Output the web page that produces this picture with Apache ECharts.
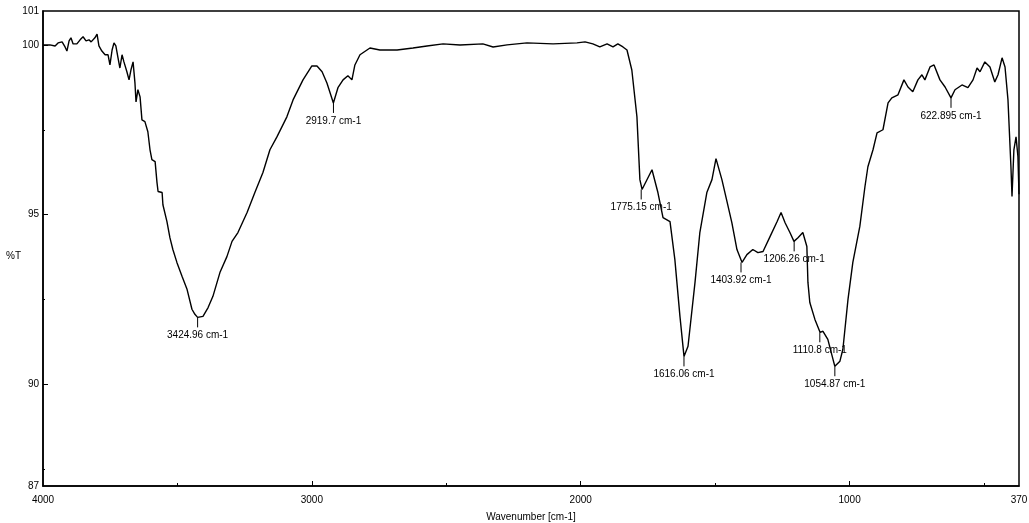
<!DOCTYPE html>
<html>
<head>
<meta charset="utf-8">
<script src="https://cdn.jsdelivr.net/npm/echarts@6/dist/echarts.min.js"></script>
<style>
html,body{margin:0;padding:0;background:#fff;}
#chart{width:1029px;height:523px;}
</style>
</head>
<body>
<div id="chart"></div>
<script>
// Spectrum
const wavenumber = [4000,3974,3955,3944,3929,3918,3911,3903,3896,3888,3874,3862,3851,3840,3829,3821,3814,3807,3799,3792,3781,3769,3758,3751,3743,3736,3729,3721,3714,3706,3699,3688,3680,3673,3665,3658,3654,3647,3639,3632,3621,3610,3602,3595,3583,3576,3572,3557,3554,3539,3528,3517,3502,3483,3464,3446,3435,3425,3405,3386,3368,3342,3316,3297,3275,3241,3212,3182,3156,3130,3093,3070,3033,3000,2981,2962,2944,2920,2903,2884,2866,2851,2840,2821,2784,2747,2683,2624,2572,2512,2449,2364,2326,2274,2200,2103,2014,1984,1955,1929,1902,1880,1862,1843,1828,1810,1791,1780,1772,1735,1713,1694,1668,1650,1631,1616,1601,1575,1557,1531,1512,1497,1475,1456,1438,1419,1400,1382,1360,1341,1322,1296,1270,1255,1240,1222,1207,1192,1174,1159,1155,1148,1129,1110,1099,1081,1062,1055,1036,1025,1006,988,962,943,932,913,898,876,857,843,820,798,783,765,746,731,720,701,686,664,645,623,608,582,560,541,526,515,497,478,460,448,433,422,411,400,396,389,381,374,370];
const transmittance = [100.0,100.0,99.97,100.06,100.09,99.94,99.82,100.12,100.21,100.03,100.03,100.15,100.24,100.12,100.15,100.09,100.06,100.21,100.32,99.97,99.82,99.71,99.71,99.41,99.85,100.06,99.97,99.62,99.32,99.71,99.5,99.21,98.97,99.26,99.5,98.88,98.32,98.68,98.47,97.79,97.74,97.44,96.91,96.62,96.56,95.94,95.68,95.65,95.29,94.79,94.32,93.97,93.59,93.18,92.79,92.21,92.06,91.97,92.0,92.26,92.59,93.29,93.76,94.21,94.47,95.06,95.65,96.24,96.91,97.29,97.88,98.38,98.97,99.38,99.38,99.21,98.88,98.29,98.74,98.97,99.09,98.97,99.41,99.71,99.91,99.85,99.85,99.91,99.97,100.03,100.0,100.03,99.94,100.0,100.06,100.03,100.06,100.09,100.03,99.94,100.03,99.94,100.03,99.94,99.85,99.26,97.88,96.03,95.74,96.32,95.65,94.91,94.79,93.68,92.0,90.82,91.12,93.0,94.47,95.65,96.03,96.65,96.03,95.38,94.76,93.97,93.59,93.82,93.97,93.88,93.91,94.35,94.79,95.06,94.76,94.47,94.21,94.32,94.47,94.06,93.0,92.41,91.91,91.53,91.56,91.32,90.74,90.53,90.68,91.03,92.5,93.59,94.65,95.82,96.41,96.91,97.41,97.5,98.29,98.44,98.53,98.97,98.76,98.62,98.97,99.12,98.97,99.35,99.41,98.97,98.76,98.44,98.68,98.82,98.74,98.97,99.32,99.21,99.5,99.35,98.91,99.12,99.62,99.35,98.38,96.41,95.53,96.91,97.29,96.71,95.6];

// Peak annotations
const peakWavenumber = [3424.96, 2919.7, 1775.15, 1616.06, 1403.92, 1206.26, 1110.8, 1054.87, 622.895];
const peakTransmittance = [91.97, 98.29, 95.74, 90.82, 93.59, 94.21, 91.53, 90.53, 98.44];
const peakLabels = ['3424.96 cm-1', '2919.7 cm-1', '1775.15 cm-1', '1616.06 cm-1', '1403.92 cm-1', '1206.26 cm-1', '1110.8 cm-1', '1054.87 cm-1', '622.895 cm-1'];

// Axis ticks / labels
const xLabelValues = [4000, 3000, 2000, 1000, 370];
const xMajorTicks = [3000, 2000, 1000];
const xMinorTicks = [3500, 2500, 1500, 500];
const yLabelValues = [87, 90, 95, 100, 101];
const yMajorTicks = [90, 95, 100];
const yMinorTicks = [87.5, 92.5, 97.5];

const FONT = 'Liberation Sans, Arial, sans-serif';
const chart = echarts.init(document.getElementById('chart'));

const lineData = wavenumber.map((w, i) => [w, transmittance[i]]);
const peakData = peakWavenumber.map((w, i) => [w, peakTransmittance[i]]);

chart.setOption({
  animation: false,
  backgroundColor: '#ffffff',
  grid: {
    left: 43, right: 10, top: 11, bottom: 37,
    show: true, borderColor: '#000', borderWidth: 1.5,
    containLabel: false, outerBoundsMode: 'none'
  },
  xAxis: [{
    type: 'value', inverse: true, min: 370, max: 4000,
    name: 'Wavenumber [cm-1]', nameLocation: 'middle', nameGap: 26,
    nameTextStyle: { fontFamily: FONT, fontSize: 10, color: '#000' },
    axisLine: { show: true, onZero: false, lineStyle: { color: '#000', width: 1.5 } },
    axisTick: { show: true, inside: true, length: 5, customValues: xMajorTicks, lineStyle: { color: '#000' } },
    axisLabel: { show: true, customValues: xLabelValues, margin: 9, fontFamily: FONT, fontSize: 10, color: '#000', formatter: function (v) { return String(v); } },
    splitLine: { show: false }
  }, {
    type: 'value', inverse: true, min: 370, max: 4000, position: 'bottom',
    axisLine: { show: false },
    axisTick: { show: true, inside: true, length: 3, customValues: xMinorTicks, lineStyle: { color: '#000' } },
    axisLabel: { show: false },
    splitLine: { show: false }
  }],
  yAxis: [{
    type: 'value', min: 87, max: 101,
    axisLine: { show: true, onZero: false, lineStyle: { color: '#000', width: 1.5 } },
    axisTick: { show: true, inside: true, length: 5, customValues: yMajorTicks, lineStyle: { color: '#000' } },
    axisLabel: { show: true, customValues: yLabelValues, margin: 4, fontFamily: FONT, fontSize: 10, color: '#000', formatter: function (v) { return String(v); } },
    splitLine: { show: false }
  }, {
    type: 'value', min: 87, max: 101, position: 'left',
    axisLine: { show: false },
    axisTick: { show: true, inside: true, length: 2, customValues: yMinorTicks, lineStyle: { color: '#000' } },
    axisLabel: { show: false },
    splitLine: { show: false }
  }],
  graphic: [{
    type: 'text', left: 6, top: 251,
    style: { text: '%T', font: '10px ' + FONT, fill: '#000' }
  }],
  series: [{
    type: 'line',
    xAxisIndex: 0, yAxisIndex: 0,
    data: lineData,
    showSymbol: false,
    smooth: false,
    lineStyle: { color: '#000', width: 1.4 },
    z: 3
  }, {
    type: 'custom',
    xAxisIndex: 0, yAxisIndex: 0,
    data: peakData,
    z: 4,
    renderItem: function (params, api) {
      const p = api.coord([api.value(0), api.value(1)]);
      return {
        type: 'group',
        children: [{
          type: 'line',
          shape: { x1: p[0], y1: p[1], x2: p[0], y2: p[1] + 10 },
          style: { stroke: '#000', lineWidth: 1 }
        }, {
          type: 'text',
          x: p[0], y: p[1] + 13,
          style: {
            text: peakLabels[params.dataIndex],
            font: '10px ' + FONT,
            fill: '#000',
            textAlign: 'center',
            textVerticalAlign: 'top'
          }
        }]
      };
    }
  }]
});
</script>
</body>
</html>
